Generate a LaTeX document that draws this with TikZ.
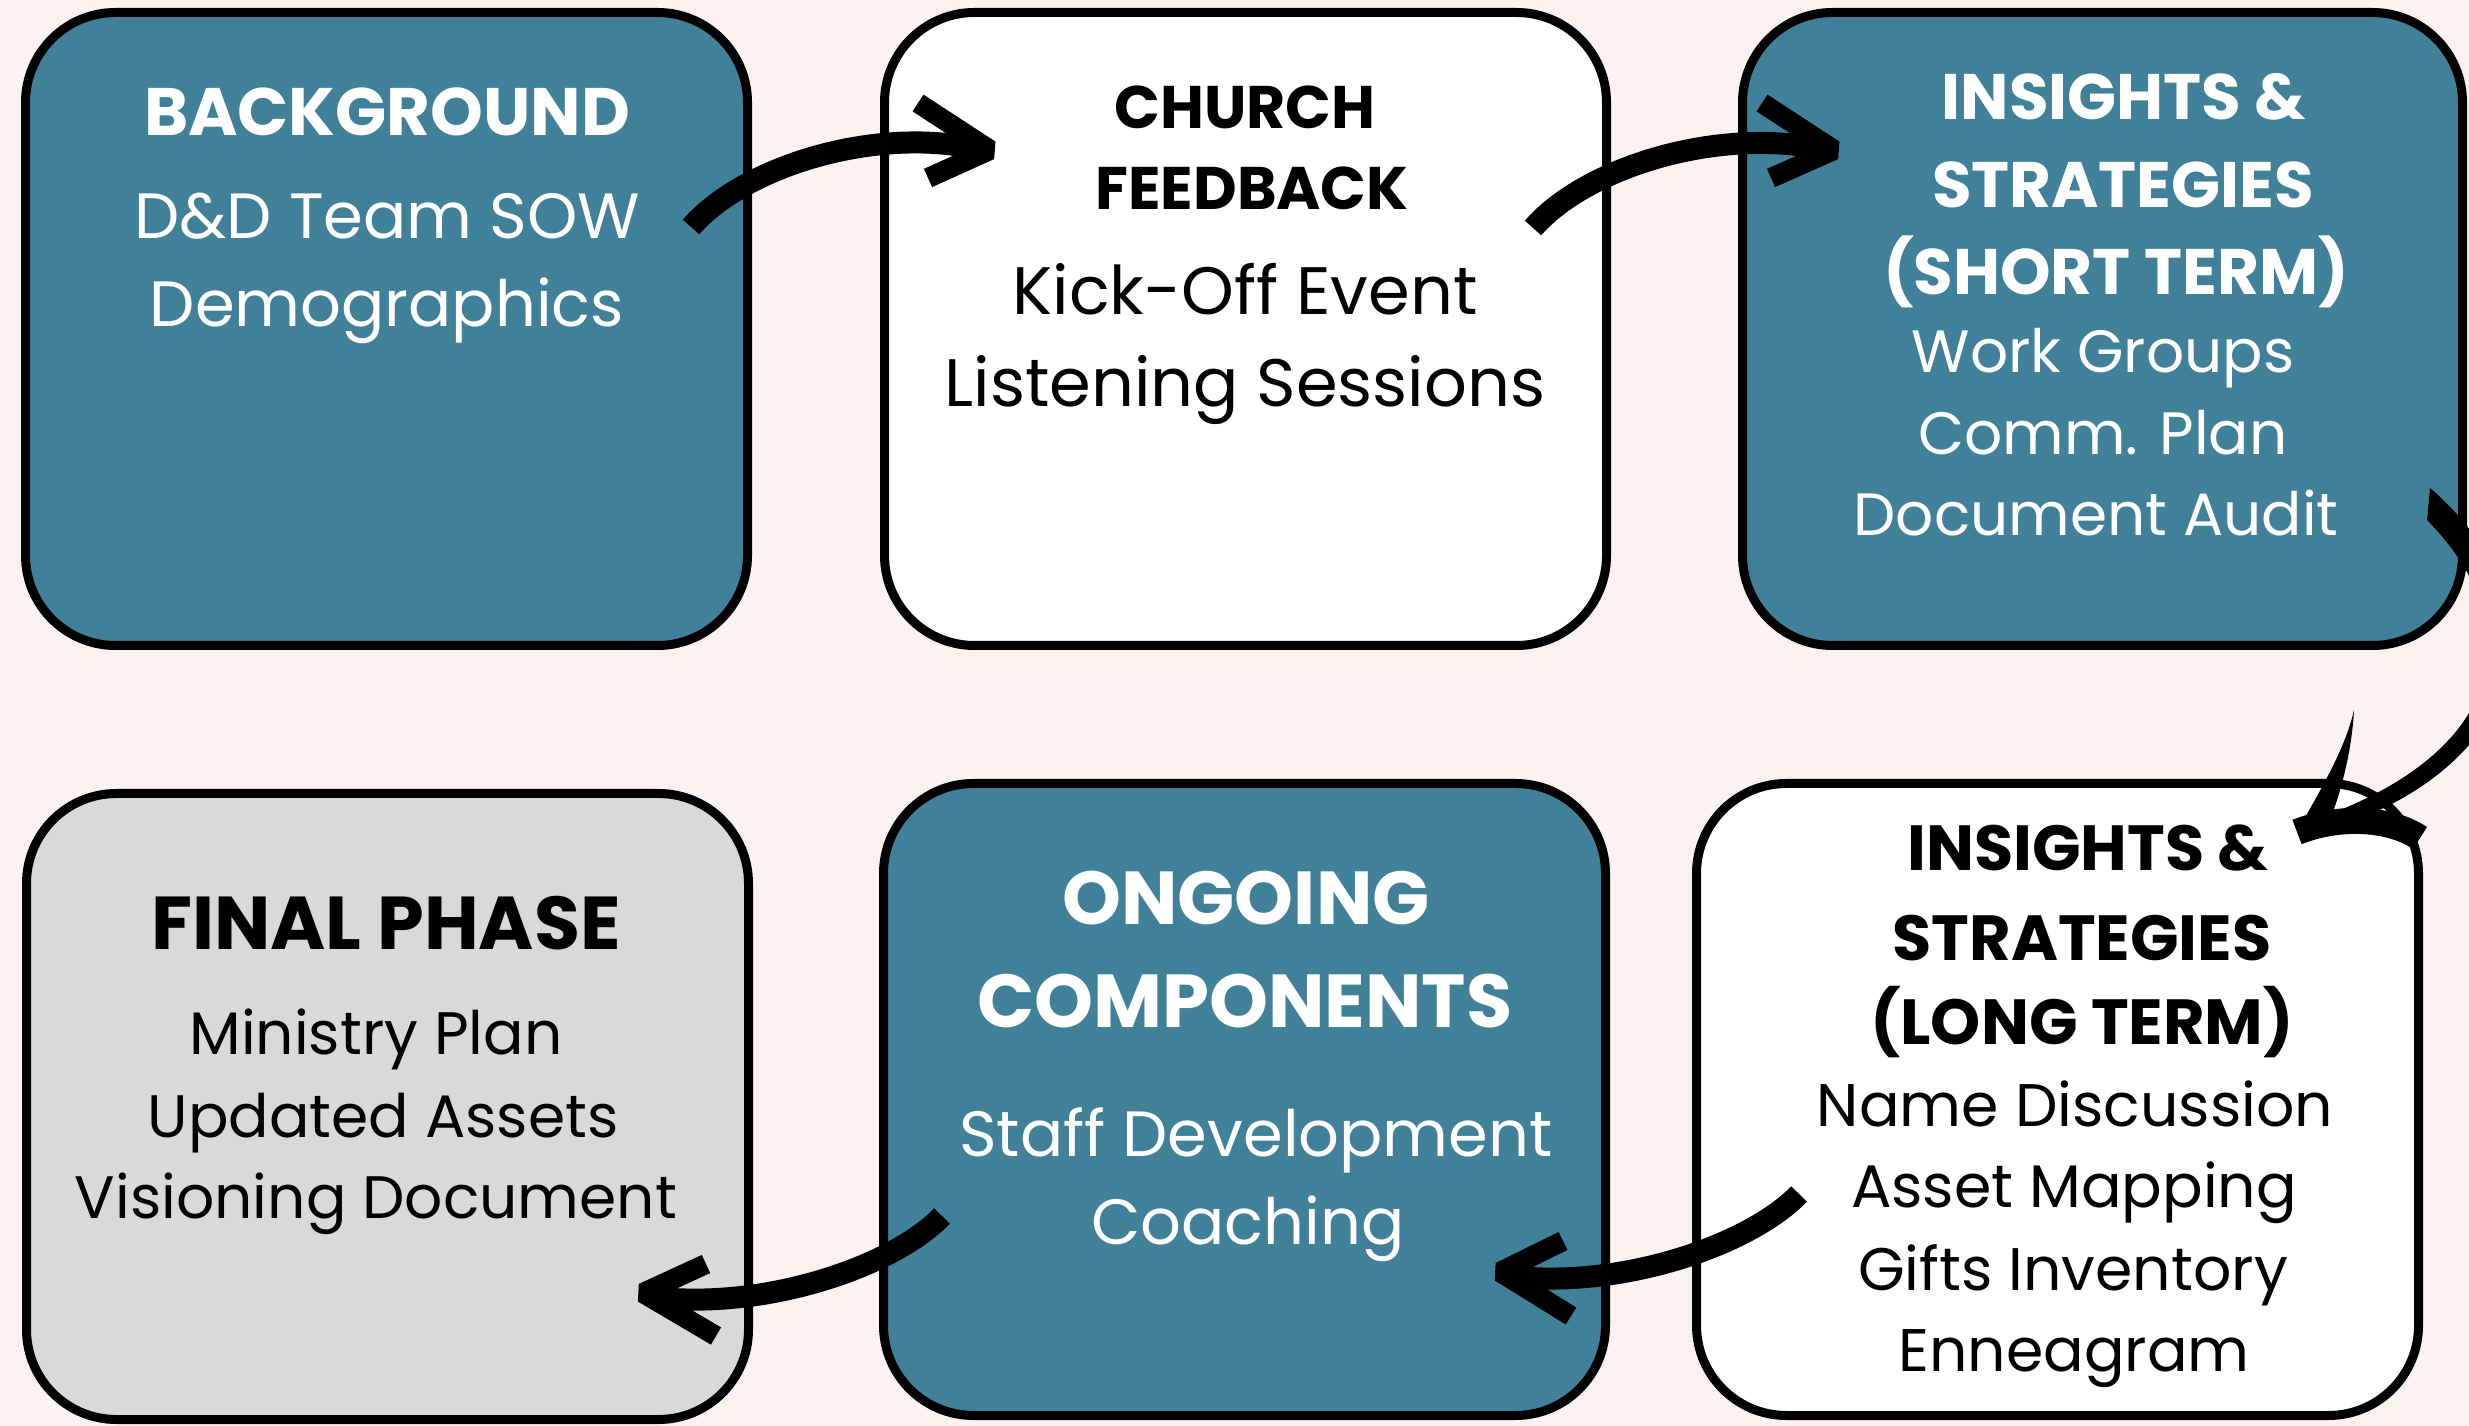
\documentclass[tikz,border=0pt]{standalone}
\usepackage{fontspec}
\setmainfont{Poppins}
\usetikzlibrary{calc}
\definecolor{bgpink}{RGB}{251,241,240}
\definecolor{boxteal}{RGB}{64,129,153}
\definecolor{boxgray}{RGB}{217,217,217}
\begin{document}
\begin{tikzpicture}[x=0.1mm,y=-0.1mm,
  box/.style={draw=black, line width=0.9mm, rounded corners=9mm,
    minimum width=72.2mm, minimum height=63.3mm, inner sep=0pt},
  hw/.style={anchor=base, inner sep=0pt, text=white, font=\bfseries\fontsize{#1}{#1}\selectfont},
  hk/.style={anchor=base, inner sep=0pt, text=black, font=\bfseries\fontsize{#1}{#1}\selectfont},
  bw/.style={anchor=base, inner sep=0pt, text=white, font=\fontsize{#1}{#1}\selectfont},
  bk/.style={anchor=base, inner sep=0pt, text=black, font=\fontsize{#1}{#1}\selectfont},
  shaft/.style={line width=2.2mm, line cap=butt},
  arm/.style={line width=2.0mm, line join=bevel, line cap=butt}]
\fill[bgpink] (0,0) rectangle (2469,1426);
\useasboundingbox (0,0) rectangle (2469,1426);

% boxes
\node[box, fill=boxteal] (b1) at (386.5,329) {};
\node[box, fill=white] (b2) at (1245.5,329) {};
\node[box, fill=boxteal, minimum width=72.0mm] (b3) at (2102.5,329) {};
\node[box, fill=boxgray, minimum height=62.6mm] (b4) at (387.5,1106.5) {};
\node[box, fill=boxteal, minimum height=63.2mm] (b5) at (1244.5,1099.5) {};
\node[box, fill=white, minimum height=63.2mm] (b6) at (2057.5,1099.5) {};

% box 1
\node[hw=19.1] (b1h1) at (387,136) {BACKGROUND};
\node[bw=18.2] (b1l1) at (387,239) {D\&D Team SOW};
\node[bw=18.2] (b1l2) at (387,327) {Demographics};

% box 2
\node[hk=17.1] (b2h1) at (1245,129) {CHURCH};
\node[hk=17.1] (b2h2) at (1252,210) {FEEDBACK};
\node[bk=19.1] (b2l1) at (1245,315) {Kick-Off Event};
\node[bk=19.1] (b2l2) at (1245,407) {Listening Sessions};

% box 3
\node[hw=18.3] (b3h1) at (2124,120) {INSIGHTS \&};
\node[hw=18.3] (b3h2) at (2123,208) {STRATEGIES};
\node[hw=18.3] (b3h3) at (2116,295) {(SHORT TERM)};
\node[bw=17.0] (b3l1) at (2103,373) {Work Groups};
\node[bw=17.0] (b3l2) at (2103,455) {Comm. Plan};
\node[bw=17.0] (b3l3) at (2096,536) {Document Audit};

% box 4
\node[hk=21.3] (b4h1) at (386,950) {FINAL PHASE};
\node[bk=17.05] (b4l1) at (376,1055) {Ministry Plan};
\node[bk=17.05] (b4l2) at (383,1137) {Updated Assets};
\node[bk=17.05] (b4l3) at (376,1218) {Visioning Document};

% box 5
\node[hw=21.35] (b5h1) at (1246,925) {ONGOING};
\node[hw=21.35] (b5h2) at (1245,1028) {COMPONENTS};
\node[bw=18.2] (b5l1) at (1256,1157) {Staff Development};
\node[bw=18.2] (b5l2) at (1248,1244) {Coaching};

% box 6
\node[hk=18.15] (b6h1) at (2088,871) {INSIGHTS \&};
\node[hk=18.15] (b6h2) at (2082,961) {STRATEGIES};
\node[hk=18.15] (b6h3) at (2082,1045) {(LONG TERM)};
\node[bk=17.1] (b6l1) at (2075,1126) {Name Discussion};
\node[bk=17.1] (b6l2) at (2074,1207) {Asset Mapping};
\node[bk=17.1] (b6l3) at (2073,1290) {Gifts Inventory};
\node[bk=17.1] (b6l4) at (2074,1371) {Enneagram};

% arrow b1 -> b2
\coordinate (a1s) at (691,227);
\coordinate (a1e) at (982,150);
\coordinate (a1t) at (990,150);
\draw[shaft] (a1s) .. controls (745,165) and (880,125) .. (a1e);
\draw[arm] ($(a1t)+(-72,-47)$) -- (a1t) -- ($(a1t)+(-62,28)$);

% arrow b2 -> b3
\coordinate (a2s) at (1533,228);
\coordinate (a2e) at (1826,150);
\coordinate (a2t) at (1834,150);
\draw[shaft] (a2s) .. controls (1587,166) and (1722,126) .. (a2e);
\draw[arm] ($(a2t)+(-72,-47)$) -- (a2t) -- ($(a2t)+(-63,28)$);

% arrow b3 -> b6
\coordinate (a3s) at (2430,488);
\coordinate (a3e) at (2335,828);
\coordinate (a3t) at (2297,832);
\fill (a3s) .. controls (2560,600) and (2535,760) .. (a3e)
  -- (2335,812) .. controls (2505,745) and (2530,625) .. (2427,520) -- cycle;
\draw[line width=2.6mm] (a3t) .. controls (2340,815) and (2390,818) .. (2420,838);
\fill (a3t) .. controls (2320,790) and (2345,750) .. (2354,710)
  .. controls (2352,750) and (2340,800) .. (2325,830) -- cycle;

% arrow b6 -> b5
\coordinate (a4s) at (1799,1194);
\coordinate (a4e) at (1508,1276);
\coordinate (a4t) at (1500,1272);
\draw[shaft] (a4s) .. controls (1750,1245) and (1620,1290) .. (a4e);
\draw[arm] ($(a4t)+(63,-31)$) -- (a4t) -- ($(a4t)+(71,44)$);

% arrow b5 -> b4
\coordinate (a5s) at (942,1216);
\coordinate (a5e) at (651,1297);
\coordinate (a5t) at (643,1293);
\draw[shaft] (a5s) .. controls (893,1267) and (763,1311) .. (a5e);
\draw[arm] ($(a5t)+(63,-29)$) -- (a5t) -- ($(a5t)+(73,43)$);
\end{tikzpicture}
\end{document}
